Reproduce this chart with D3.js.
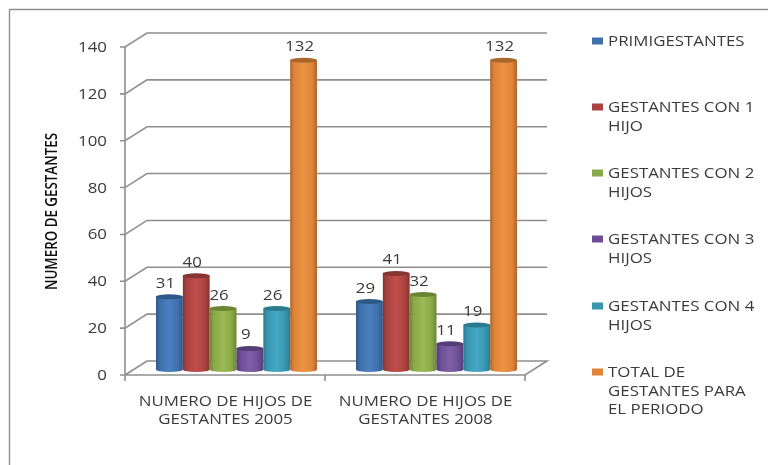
<!DOCTYPE html>
<html><head><meta charset="utf-8">
<script src="https://cdn.jsdelivr.net/npm/d3@7"></script>
<style>html,body{margin:0;padding:0;background:#fff}svg{display:block}text{font-family:"Open Sans",sans-serif;fill:#3a3a3a}</style>
</head><body><svg id="c" width="768" height="465"></svg>
<script>
const categories=["NUMERO DE HIJOS DE GESTANTES 2005","NUMERO DE HIJOS DE GESTANTES 2008"];
const categoryLines=[["NUMERO DE HIJOS DE","GESTANTES 2005"],["NUMERO DE HIJOS DE","GESTANTES 2008"]];
const seriesNames=["PRIMIGESTANTES","GESTANTES CON 1 HIJO","GESTANTES CON 2 HIJOS","GESTANTES CON 3 HIJOS","GESTANTES CON 4 HIJOS","TOTAL DE GESTANTES PARA EL PERIODO"];
const legendLines=[["PRIMIGESTANTES"],["GESTANTES CON 1","HIJO"],["GESTANTES CON 2","HIJOS"],["GESTANTES CON 3","HIJOS"],["GESTANTES CON 4","HIJOS"],["TOTAL DE","GESTANTES PARA","EL PERIODO"]];
const values2005=[31,40,26,9,26,132];
const values2008=[29,41,32,11,19,132];
const allValues=[values2005,values2008];
const yTicks=[0,20,40,60,80,100,120,140];
const colors=["#3f70ab","#ab4240","#89a848","#6d4e96","#3996b0","#df8439"];
const light=["#4a80c0","#c04e4b","#9cbb54","#7f60a7","#45a9c5","#ec9243"];
const dark=["#2f5988","#853432","#6b8634","#553c76","#2b7a90","#ab662c"];
const legendY=[41,107,173,239,306,372];
const stretch=1.205;

const svg=d3.select("#c");
const defs=svg.append("defs");
defs.append("filter").attr("id","soft").attr("x","-5%").attr("y","-5%").attr("width","110%").attr("height","110%")
  .append("feGaussianBlur").attr("stdDeviation",0.55);
colors.forEach((c,i)=>{
  const g=defs.append("linearGradient").attr("id","g"+i);
  [[0,dark[i]],[0.15,colors[i]],[0.5,light[i]],[0.82,colors[i]],[1,dark[i]]].forEach(([o,k])=>g.append("stop").attr("offset",o).attr("stop-color",k));
});
const root=svg.append("g").attr("filter","url(#soft)");
const left=125,right=525,dx=22,dy=14;
const y=d3.scaleLinear().domain([0,140]).range([375,47]);
const x0=d3.scaleBand().domain(categories).range([left,right]);
const x1=d3.scaleBand().domain(d3.range(6)).range([31,192]);
const place=(s,fx,fy)=>s.attr("transform",(d,i)=>`translate(${fx(d,i)},${fy(d,i)}) scale(${stretch},1)`);

// frame
root.append("path").attr("d","M9.5,465V9.5H768").attr("fill","none").attr("stroke","#8f8f8f").attr("stroke-width",1.4);

// walls and grid
const gridCol="#8f8f8f";
root.append("g").selectAll("path").data(yTicks).join("path")
  .attr("fill","none").attr("stroke",gridCol).attr("stroke-width",1.6)
  .attr("d",d=>d===0
    ?`M${left-5},${y(d)}H${right}L${right+dx},${y(d)-dy}H${left+dx}L${left},${y(d)}`
    :`M${left-5},${y(d)}H${left}L${left+dx},${y(d)-dy}H${right+dx}`);
root.append("path").attr("d",`M${left},${y(140)}V${y(0)+6}M${left+200},${y(0)}v6M${right},${y(0)}v6`).attr("stroke",gridCol).attr("stroke-width",1.6).attr("fill","none");

// tick labels
place(root.append("g").selectAll("text").data(yTicks).join("text"),()=>107,d=>y(d)+5)
  .attr("text-anchor","end").attr("font-size",14).text(d=>d);

// bars
const base=y(0)-3;
const groups=root.append("g").selectAll("g").data(categories).join("g").attr("transform",d=>`translate(${x0(d)},0)`);
groups.each(function(cat,ci){
  const g=d3.select(this);
  allValues[ci].forEach((v,si)=>{
    const bx=x1(si),w=x1.bandwidth(),top=y(v)-5.5,ry=2.5;
    g.append("path").attr("fill",`url(#g${si})`)
      .attr("d",`M${bx},${top}V${base-ry}A${w/2},${ry} 0 0 0 ${bx+w},${base-ry}V${top}Z`);
    g.append("ellipse").attr("cx",bx+w/2).attr("cy",top).attr("rx",w/2).attr("ry",ry).attr("fill",dark[si]);
    g.append("text").attr("transform",`translate(${bx+w/2-4},${top-9}) scale(${stretch},1)`).attr("text-anchor","middle").attr("font-size",14).text(v);
  });
  place(g.append("g").selectAll("text").data(categoryLines[ci]).join("text"),()=>100.5,(d,i)=>405.5+i*18.7)
    .attr("text-anchor","middle").attr("font-size",14).text(d=>d);
});

// y title
root.append("text").attr("transform","translate(57,211.5) rotate(-90)").attr("text-anchor","middle").attr("font-size",16).attr("font-weight",600)
  .attr("textLength",157).attr("lengthAdjust","spacingAndGlyphs").style("fill","#111").text("NUMERO DE GESTANTES");

// legend
const leg=root.append("g").selectAll("g").data(seriesNames).join("g");
leg.append("rect").attr("x",592).attr("y",(d,i)=>legendY[i]-3.5).attr("width",11).attr("height",7).attr("fill",(d,i)=>colors[i]);
leg.each(function(d,i){
  place(d3.select(this).selectAll("text").data(legendLines[i]).join("text"),()=>608,(t,j)=>legendY[i]+5+j*18.7)
    .attr("font-size",14).text(t=>t);
});
</script></body></html>
